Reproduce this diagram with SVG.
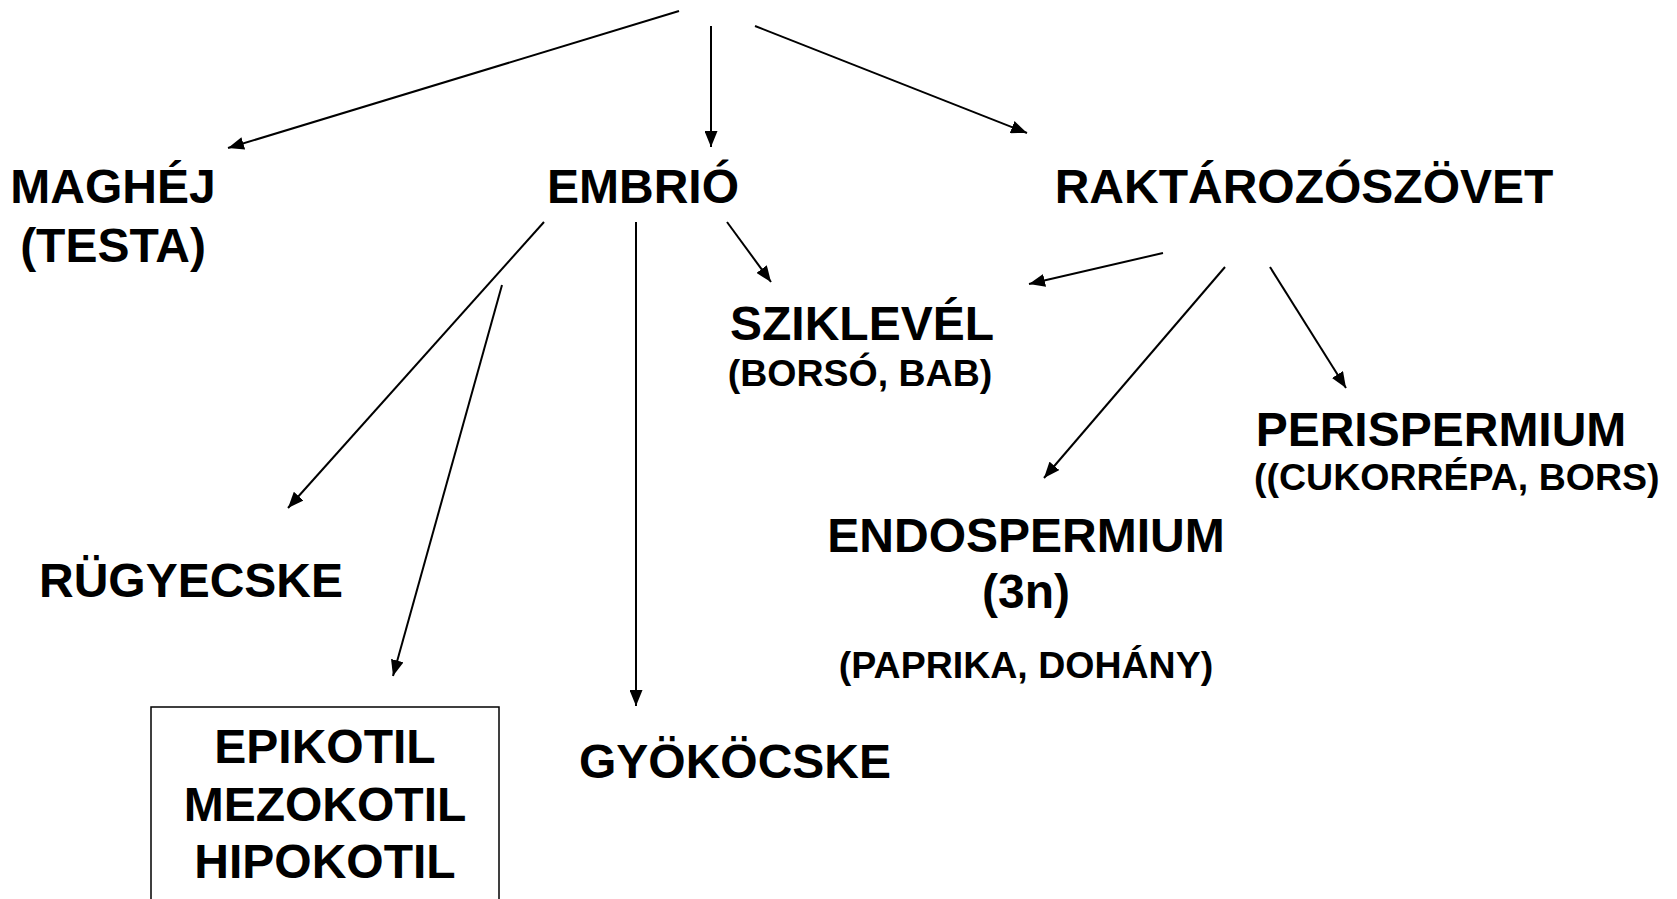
<svg xmlns="http://www.w3.org/2000/svg" width="1677" height="899" viewBox="0 0 1677 899">
<style>
.t{font-family:"Liberation Sans",Arial,sans-serif;font-weight:bold;fill:#000}
.b{font-size:48px}
.s{font-size:37.5px}
.c line{stroke:#000;stroke-width:2;marker-end:url(#ah)}
</style>
<defs>
<marker id="ah" markerUnits="userSpaceOnUse" markerWidth="17" markerHeight="13" refX="16" refY="6.5" orient="auto">
<path d="M0,0 L16,6.5 L0,13 z" fill="#000"/>
</marker>
</defs>
<rect width="1677" height="899" fill="#fff"/>
<g id="connectors" class="c">
<line x1="679" y1="11" x2="228" y2="148"/>
<line x1="711" y1="26" x2="711" y2="147"/>
<line x1="755" y1="26" x2="1027" y2="133"/>
<line x1="544" y1="222" x2="288" y2="508"/>
<line x1="502" y1="285" x2="393" y2="676"/>
<line x1="636" y1="222" x2="636" y2="706"/>
<line x1="727" y1="222" x2="771" y2="282"/>
<line x1="1163" y1="253" x2="1029" y2="284"/>
<line x1="1225" y1="267" x2="1044" y2="478"/>
<line x1="1270" y1="267" x2="1346" y2="388"/>
</g>
<g id="maghej"><text class="t b" x="113" y="203" text-anchor="middle">MAGHÉJ</text><text class="t b" x="113" y="262" text-anchor="middle">(TESTA)</text></g>
<g id="embrio"><text class="t b" x="643" y="203" text-anchor="middle">EMBRIÓ</text></g>
<g id="raktarozo"><text class="t b" x="1304" y="203" text-anchor="middle">RAKTÁROZÓSZÖVET</text></g>
<g id="sziklevel"><text class="t b" x="862" y="340" text-anchor="middle">SZIKLEVÉL</text><text class="t s" x="860" y="386" text-anchor="middle">(BORSÓ, BAB)</text></g>
<g id="perispermium"><text class="t b" x="1441" y="446" text-anchor="middle">PERISPERMIUM</text><text class="t s" x="1254" y="490">((CUKORRÉPA, BORS)</text></g>
<g id="endospermium"><text class="t b" x="1026" y="552" text-anchor="middle">ENDOSPERMIUM</text><text class="t b" x="1026" y="608" text-anchor="middle">(3n)</text><text class="t s" x="1026" y="678" text-anchor="middle">(PAPRIKA, DOHÁNY)</text></g>
<g id="rugyecske"><text class="t b" x="191" y="597" text-anchor="middle">RÜGYECSKE</text></g>
<g id="gyokocske"><text class="t b" x="735" y="778" text-anchor="middle">GYÖKÖCSKE</text></g>
<g id="kotil"><rect x="151" y="707" width="348" height="210" fill="none" stroke="#000" stroke-width="1.5"/><text class="t b" x="325" y="763" text-anchor="middle">EPIKOTIL</text><text class="t b" x="325" y="821" text-anchor="middle">MEZOKOTIL</text><text class="t b" x="325" y="878" text-anchor="middle">HIPOKOTIL</text></g>
</svg>
